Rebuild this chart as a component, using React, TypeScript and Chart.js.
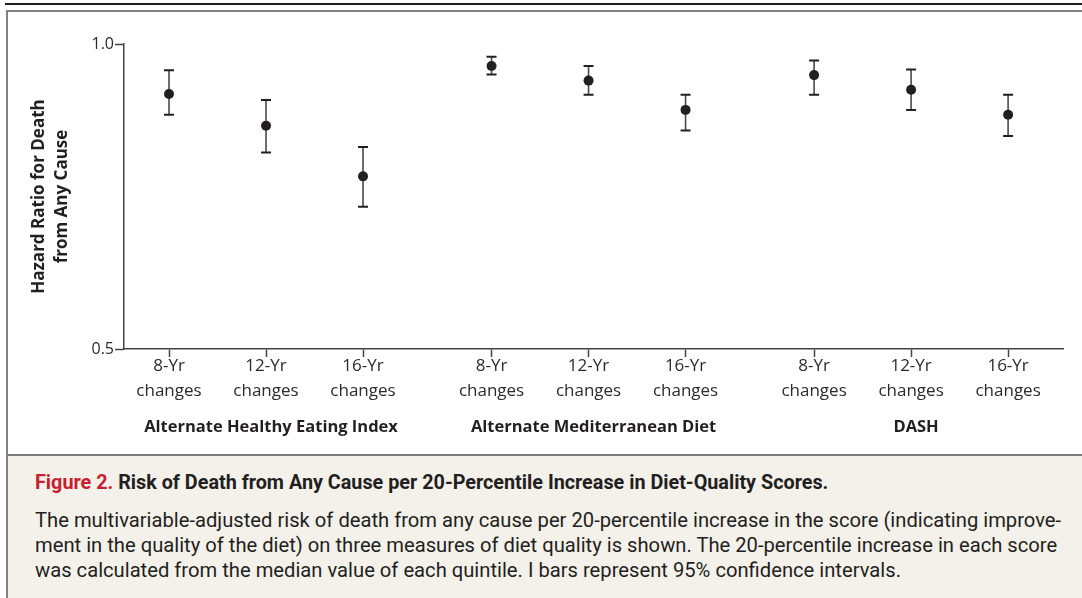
import React, { useEffect, useRef } from "react";
import { Chart, registerables } from "chart.js";

Chart.register(...registerables);

// ---- data ----
const GROUPS = ["Alternate Healthy Eating Index", "Alternate Mediterranean Diet", "DASH"];
const PERIODS = ["8-Yr", "12-Yr", "16-Yr"];
const PERIOD_SUFFIX = "changes";
const HR = [0.918, 0.866, 0.783, 0.964, 0.94, 0.892, 0.949, 0.925, 0.884];
const CI_LOW = [0.884, 0.822, 0.733, 0.95, 0.917, 0.858, 0.917, 0.892, 0.849];
const CI_HIGH = [0.957, 0.908, 0.831, 0.979, 0.964, 0.917, 0.973, 0.958, 0.917];
const Y_TICKS = [0.5, 1.0];
const Y_TITLE = ["Hazard Ratio for Death", "from Any Cause"];

const CAPTION_LABEL = "Figure 2.";
const CAPTION_TITLE = " Risk of Death from Any Cause per 20-Percentile Increase in Diet-Quality Scores.";
const CAPTION_LINES = [
  "The multivariable-adjusted risk of death from any cause per 20-percentile increase in the score (indicating improve-",
  "ment in the quality of the diet) on three measures of diet quality is shown. The 20-percentile increase in each score",
  "was calculated from the median value of each quintile. I bars represent 95% confidence intervals.",
];

// layout helpers (group spacing in category units)
const GROUP_GAP = 3.325;
const xOf = (k: number) => Math.floor(k / PERIODS.length) * GROUP_GAP + (k % PERIODS.length);
const X_POS = HR.map((_, k) => xOf(k));

const INK = "#231f20";
const TICK_FONT = "'Open Sans', sans-serif";

const errorBarPlugin = {
  id: "errorBars",
  beforeDatasetsDraw(chart: any) {
    const { ctx, scales } = chart;
    const xs = scales.x;
    const ys = scales.y;
    ctx.save();
    HR.forEach((_, k) => {
      const px = xs.getPixelForValue(X_POS[k]);
      const yl = ys.getPixelForValue(CI_LOW[k]);
      const yh = ys.getPixelForValue(CI_HIGH[k]);
      ctx.strokeStyle = "#4a4a4a";
      ctx.lineWidth = 1.6;
      ctx.beginPath();
      ctx.moveTo(px, yl);
      ctx.lineTo(px, yh);
      ctx.stroke();
      ctx.strokeStyle = INK;
      ctx.lineWidth = 2;
      ctx.beginPath();
      ctx.moveTo(px - 5, yl);
      ctx.lineTo(px + 5, yl);
      ctx.moveTo(px - 5, yh);
      ctx.lineTo(px + 5, yh);
      ctx.stroke();
    });
    ctx.restore();
  },
};

const groupLabelPlugin = {
  id: "groupLabels",
  afterDraw(chart: any) {
    const { ctx, scales, chartArea } = chart;
    const xs = scales.x;
    ctx.save();
    ctx.font = `bold 16.5px ${TICK_FONT}`;
    ctx.fillStyle = INK;
    ctx.textAlign = "center";
    ctx.textBaseline = "middle";
    GROUPS.forEach((g, gi) => {
      const idx = HR.map((_, k) => k).filter((k) => Math.floor(k / PERIODS.length) === gi);
      const mid = idx.reduce((s, k) => s + X_POS[k], 0) / idx.length;
      ctx.fillText(g, xs.getPixelForValue(mid) + 5, chartArea.bottom + 78);
    });
    ctx.restore();
  },
};

export default function App() {
  const ref = useRef<HTMLCanvasElement | null>(null);

  useEffect(() => {
    if (!ref.current) return;
    const chart = new Chart(ref.current, {
      type: "scatter",
      data: {
        datasets: [
          {
            data: HR.map((v, k) => ({ x: X_POS[k], y: v })),
            pointRadius: 5,
            pointHoverRadius: 5,
            pointBackgroundColor: INK,
            pointBorderWidth: 0,
            borderWidth: 0,
          },
        ],
      },
      options: {
        animation: false,
        responsive: false,
        events: [],
        layout: { padding: { left: 28, right: 19, top: 44, bottom: 45 } },
        plugins: { legend: { display: false }, tooltip: { enabled: false } },
        scales: {
          x: {
            type: "linear",
            min: -0.464,
            max: 9.216,
            afterBuildTicks: (s: any) => {
              s.ticks = X_POS.map((v) => ({ value: v }));
            },
            afterFit: (s: any) => {
              s.height = 60;
            },
            grid: {
              drawOnChartArea: false,
              tickLength: 8,
              tickColor: "#444",
              tickWidth: 1.5,
            },
            border: { color: "#444", width: 1.5 },
            ticks: {
              autoSkip: false,
              maxRotation: 0,
              padding: -3.5,
              color: "#2b2b2b",
              font: { family: TICK_FONT, size: 17, lineHeight: 1.47 },
              callback: (_v: any, i: number) => [PERIODS[i % PERIODS.length], PERIOD_SUFFIX],
            },
          },
          y: {
            type: "linear",
            min: 0.5,
            max: 1.0,
            afterBuildTicks: (s: any) => {
              s.ticks = Y_TICKS.map((v) => ({ value: v }));
            },
            afterFit: (s: any) => {
              s.width = 96;
            },
            grid: {
              drawOnChartArea: false,
              tickLength: 9,
              tickColor: "#444",
              tickWidth: 1.5,
            },
            border: { color: "#444", width: 1.5 },
            ticks: {
              padding: 1,
              color: "#2b2b2b",
              font: { family: TICK_FONT, size: 16 },
              callback: (v: any) => Number(v).toFixed(1),
            },
            title: {
              display: true,
              text: Y_TITLE,
              color: INK,
              padding: 0,
              font: { family: TICK_FONT, size: 17, weight: "bold", lineHeight: 1.35 },
            },
          },
        },
      },
      plugins: [errorBarPlugin, groupLabelPlugin],
    } as any);
    return () => chart.destroy();
  }, []);

  return (
    <div style={{ position: "absolute", left: 0, top: 0, width: 1082, height: 598, overflow: "hidden", background: "#fff" }}>
      <div style={{ position: "absolute", left: 5, top: 3, width: 1077, height: 2, background: "#1e1e1e" }} />
      <div style={{ position: "absolute", left: 6, top: 10, width: 1076, height: 2, background: "#808080" }} />
      <div style={{ position: "absolute", left: 6, top: 10, width: 2, height: 588, background: "#808080" }} />
      <canvas ref={ref} width={1082} height={454} style={{ position: "absolute", left: 0, top: 0, width: 1082, height: 454 }} />
      <div style={{ position: "absolute", left: 8, top: 454, width: 1074, height: 2, background: "#7a7a7a" }} />
      <div
        style={{
          position: "absolute",
          left: 8,
          top: 456,
          width: 1074,
          height: 142,
          background: "#f4f1eb",
          fontFamily: "Roboto, sans-serif",
          color: INK,
        }}
      >
        <div style={{ position: "absolute", left: 27, top: 15, whiteSpace: "nowrap", fontSize: 19.8, fontWeight: 700, lineHeight: "24px" }}>
          <span style={{ color: "#c8202f" }}>{CAPTION_LABEL}</span>
          <span>{CAPTION_TITLE}</span>
        </div>
        {CAPTION_LINES.map((t, i) => (
          <div
            key={i}
            style={{ position: "absolute", left: 27, top: 52 + i * 25, whiteSpace: "nowrap", fontSize: 20.2, lineHeight: "24px" }}
          >
            {t}
          </div>
        ))}
      </div>
    </div>
  );
}
